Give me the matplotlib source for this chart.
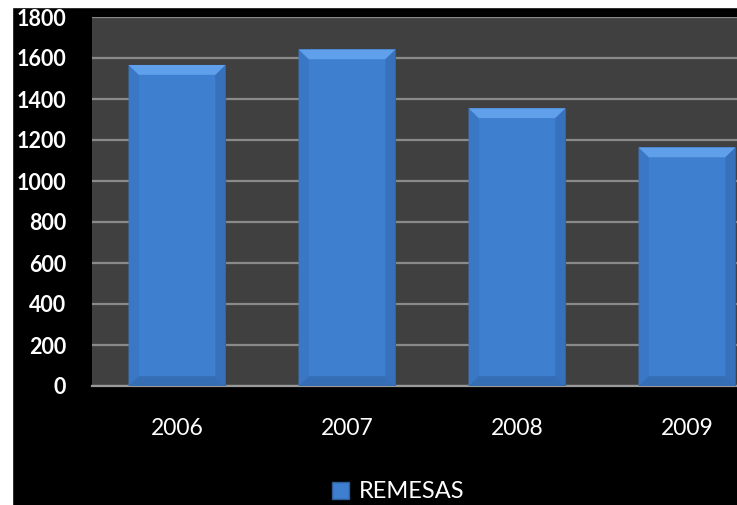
import matplotlib
matplotlib.use('Agg')
import matplotlib.pyplot as plt
from matplotlib.patches import Polygon, Rectangle, Patch

# data
years = ['2006', '2007', '2008', '2009']
remesas = [1566, 1642, 1355, 1164]
y_ticks = [0, 200, 400, 600, 800, 1000, 1200, 1400, 1600, 1800]

plt.rcParams['font.family'] = ['Lato', 'DejaVu Sans']

fig = plt.figure(figsize=(7.37, 5.05), dpi=100, facecolor='black')
ax = fig.add_axes([92 / 737, 119 / 505, 680 / 737, 369 / 505])
ax.set_facecolor('#404040')

x = range(len(years))
bar_w = 0.57
main_col = '#3e7fd0'
bars = ax.bar(x, remesas, width=bar_w, color=main_col, edgecolor='#2d5c98',
              linewidth=0.8, zorder=3, label='REMESAS')

# bevel shading on each bar
dx = 0.06   # ~10 px horizontally
dy = 48     # ~10 px vertically
for b in bars:
    x0 = b.get_x()
    x1 = x0 + b.get_width()
    top = b.get_height()
    # left / right sides (slightly darker)
    ax.add_patch(Polygon([(x0, 0), (x0 + dx, dy), (x0 + dx, top - dy), (x0, top)],
                         closed=True, color='#3a77c5', lw=0, zorder=4))
    ax.add_patch(Polygon([(x1, 0), (x1 - dx, dy), (x1 - dx, top - dy), (x1, top)],
                         closed=True, color='#3771bc', lw=0, zorder=4))
    # bottom (darker)
    ax.add_patch(Polygon([(x0, 0), (x1, 0), (x1 - dx, dy), (x0 + dx, dy)],
                         closed=True, color='#366eb6', lw=0, zorder=4))
    # top (light)
    ax.add_patch(Polygon([(x0, top), (x1, top), (x1 - dx, top - dy), (x0 + dx, top - dy)],
                         closed=True, color='#60a0ea', lw=0, zorder=4))

ax.set_xlim(-0.5, len(years) - 0.5)
ax.set_ylim(0, 1800)
ax.set_yticks(y_ticks)
ax.set_xticks(list(x))
ax.set_xticklabels(years)
ax.yaxis.grid(True, color='#8a8a8a', linewidth=1.6, zorder=1)
ax.set_axisbelow(True)

for s in ['top', 'right', 'left']:
    ax.spines[s].set_visible(False)
ax.spines['bottom'].set_color('#9a9a9a')
ax.spines['bottom'].set_linewidth(1.6)

ax.tick_params(axis='both', length=0, colors='white')
ax.tick_params(axis='y', pad=18.5, labelsize=15.5)
ax.tick_params(axis='x', pad=23, labelsize=16.5)
for lbl in ax.get_yticklabels():
    lbl.set_fontweight('bold')

fig.legend(handles=[Patch(facecolor=main_col, edgecolor='#2d5c98', label='REMESAS')],
           loc='center', bbox_to_anchor=(398 / 737, 13 / 505), frameon=False,
           fontsize=17, labelcolor='white', handlelength=0.75, handleheight=0.75,
           handletextpad=0.4, borderpad=0.1)

# white margins at the top and left of the original picture
fig.patches.append(Rectangle((0, 1 - 7 / 505), 1, 7 / 505, transform=fig.transFigure,
                             color='white', zorder=10))
fig.patches.append(Rectangle((0, 0), 12 / 737, 1, transform=fig.transFigure,
                             color='white', zorder=10))

plt.savefig('out.png', dpi=100, facecolor='black')
